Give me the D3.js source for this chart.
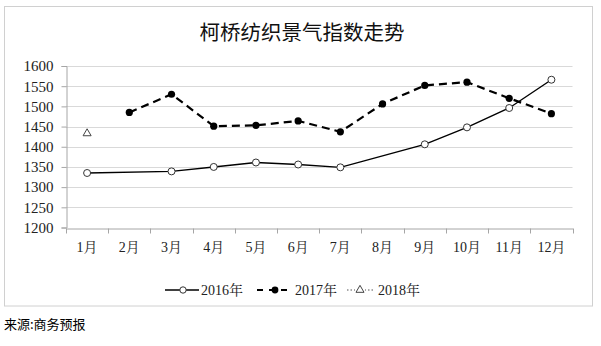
<!DOCTYPE html>
<html>
<head>
<meta charset="utf-8">
<script src="https://cdn.jsdelivr.net/npm/d3@7"></script>
<style>
  html, body { margin: 0; padding: 0; background: #fff; }
  svg { display: block; }
</style>
</head>
<body>
<svg id="chart" width="601" height="346"></svg>
<script>
// Monthly index values (null = no reading that month)
const months = ["1月","2月","3月","4月","5月","6月","7月","8月","9月","10月","11月","12月"];
const values2016 = [1335, null, 1339, 1350, 1361, 1356, 1349, null, 1406, 1448, 1496, 1566];
const values2017 = [null, 1485, 1530, 1451, 1453, 1464, 1437, 1506, 1552, 1560, 1520, 1482];
const values2018 = [1433, null, null, null, null, null, null, null, null, null, null, null];
const yTicks = [1200, 1250, 1300, 1350, 1400, 1450, 1500, 1550, 1600];
const seriesNames = ["2016年", "2017年", "2018年"];
const titleText = "柯桥纺织景气指数走势";
const sourceText = "来源:商务预报";

(function draw() {
  const svg = d3.select("#chart");
  const serif = "'Liberation Serif', 'Noto Serif CJK SC', 'Noto Sans CJK SC', serif";
  const cjk = "'Noto Sans CJK SC', sans-serif";

  // outer frame
  svg.append("rect")
    .attr("x", 4.5).attr("y", 6.5).attr("width", 588).attr("height", 299.5)
    .attr("fill", "#fff").attr("stroke", "#d0d0d0").attr("stroke-width", 1);

  svg.append("text")
    .attr("x", 302).attr("y", 40)
    .attr("text-anchor", "middle")
    .style("font-family", cjk).style("font-size", "20.5px").attr("fill", "#111")
    .text(titleText);

  const plotL = 66, plotR = 572.5, plotT = 66, plotB = 227.5;

  const x = d3.scaleBand().domain(months).range([plotL, plotR]);
  const y = d3.scaleLinear().domain([1200, 1600]).range([plotB, plotT]);

  // gridlines
  svg.append("g").selectAll("line").data(yTicks.filter(t => t !== 1200)).join("line")
    .attr("x1", plotL).attr("x2", plotR)
    .attr("y1", d => Math.round(y(d)) + 0.5).attr("y2", d => Math.round(y(d)) + 0.5)
    .attr("stroke", "#d9d9d9").attr("stroke-width", 1);

  // y axis
  const yAxis = svg.append("g")
    .attr("transform", `translate(${plotL + 0.5},0)`)
    .call(d3.axisLeft(y).tickValues(yTicks).tickSize(5).tickPadding(8).tickFormat(d3.format("d")));
  yAxis.select(".domain").attr("stroke", "#a6a6a6");
  yAxis.selectAll(".tick line").attr("stroke", "#a6a6a6");
  yAxis.selectAll("text").style("font-family", serif).style("font-size", "15px").attr("fill", "#222");

  // x axis with ticks at category boundaries
  const xAxis = svg.append("g")
    .attr("transform", `translate(0,${Math.round(plotB) + 0.5})`)
    .call(d3.axisBottom(x).tickSize(0).tickPadding(14));
  xAxis.select(".domain").attr("stroke", "#a6a6a6");
  xAxis.selectAll("text").style("font-family", serif).style("font-size", "14px").attr("fill", "#222");
  const bounds = months.map(m => x(m)).concat([plotR]);
  svg.append("g").selectAll("line").data(bounds).join("line")
    .attr("x1", d => Math.round(d) + 0.5).attr("x2", d => Math.round(d) + 0.5)
    .attr("y1", Math.round(plotB) + 0.5).attr("y2", Math.round(plotB) + 5.5)
    .attr("stroke", "#a6a6a6");

  const cx = m => x(m) + x.bandwidth() / 2;
  const pts = vals => vals.map((v, i) => ({ m: months[i], v })).filter(d => d.v !== null);
  const line = d3.line().x(d => cx(d.m)).y(d => y(d.v));

  // 2017 dashed series
  const p17 = pts(values2017);
  svg.append("path").datum(p17).attr("d", line)
    .attr("fill", "none").attr("stroke", "#000").attr("stroke-width", 2.2)
    .attr("stroke-dasharray", "8,5");
  svg.append("g").selectAll("circle").data(p17).join("circle")
    .attr("cx", d => cx(d.m)).attr("cy", d => y(d.v)).attr("r", 3.6)
    .attr("fill", "#000");

  // 2016 solid series
  const p16 = pts(values2016);
  svg.append("path").datum(p16).attr("d", line)
    .attr("fill", "none").attr("stroke", "#000").attr("stroke-width", 1.4);
  svg.append("g").selectAll("circle").data(p16).join("circle")
    .attr("cx", d => cx(d.m)).attr("cy", d => y(d.v)).attr("r", 3.5)
    .attr("fill", "#fff").attr("stroke", "#333").attr("stroke-width", 1);

  // 2018 series
  const p18 = pts(values2018);
  const tri = d3.symbol().type(d3.symbolTriangle).size(28);
  svg.append("g").selectAll("path").data(p18).join("path")
    .attr("transform", d => `translate(${cx(d.m)},${y(d.v)})`)
    .attr("d", tri).attr("fill", "#fff").attr("stroke", "#444").attr("stroke-width", 1);

  // legend
  const ly = 290;
  const lg = svg.append("g");
  lg.append("line").attr("x1", 165).attr("x2", 199).attr("y1", ly).attr("y2", ly)
    .attr("stroke", "#000").attr("stroke-width", 1.4);
  lg.append("circle").attr("cx", 183).attr("cy", ly).attr("r", 3.2)
    .attr("fill", "#fff").attr("stroke", "#333");
  lg.append("line").attr("x1", 257).attr("x2", 293).attr("y1", ly).attr("y2", ly)
    .attr("stroke", "#000").attr("stroke-width", 2.2).attr("stroke-dasharray", "6,6");
  lg.append("circle").attr("cx", 275).attr("cy", ly).attr("r", 3.4).attr("fill", "#000");
  lg.append("line").attr("x1", 347).attr("x2", 373).attr("y1", ly).attr("y2", ly)
    .attr("stroke", "#555").attr("stroke-width", 1.2).attr("stroke-dasharray", "1.5,2");
  lg.append("rect").attr("x", 355).attr("y", ly - 5).attr("width", 10).attr("height", 10).attr("fill", "#fff");
  lg.append("path").attr("transform", `translate(360,${ly})`).attr("d", tri)
    .attr("fill", "#fff").attr("stroke", "#444");
  const lx = [201, 295, 378];
  lg.selectAll("text.lab").data(seriesNames).join("text")
    .attr("class", "lab")
    .attr("x", (d, i) => lx[i]).attr("y", ly + 5)
    .style("font-family", serif).style("font-size", "14px").attr("fill", "#222")
    .text(d => d);

  svg.append("text")
    .attr("x", 4).attr("y", 329)
    .style("font-family", cjk).style("font-size", "13px").attr("fill", "#000")
    .text(sourceText);
})();
</script>
</body>
</html>
